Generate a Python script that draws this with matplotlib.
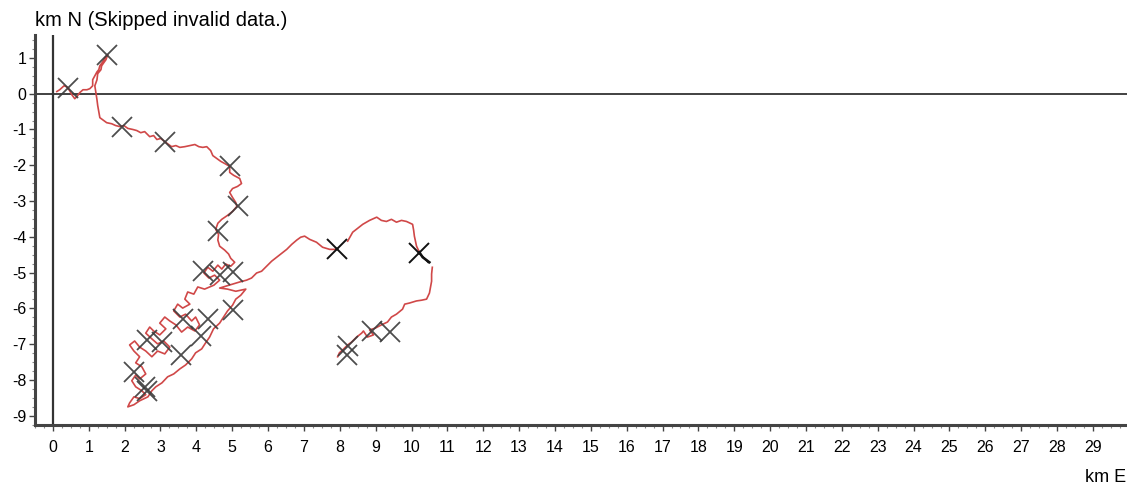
import numpy as np
import matplotlib
matplotlib.use("Agg")
import matplotlib.pyplot as plt
from matplotlib.ticker import MultipleLocator

plt.rcParams['font.family'] = ['Liberation Sans', 'DejaVu Sans']
plt.rcParams['axes.unicode_minus'] = False

nan = np.nan

# GPS track (km east / km north of start), NaN = skipped invalid data
east_km = [
    0.11, 0.19, 0.31, 0.39, 0.47, 0.53, 0.61, 0.67, 0.75, 0.84, 0.95, 1.03, 1.11, 1.11,
    1.17, 1.23, 1.28, 1.31, 1.39, 1.45, 1.53, 1.48, 1.36, 1.34, 1.25, 1.23, 1.17, 1.20,
    1.23, 1.25, 1.28, 1.31, 1.42, 1.50, 1.64, 1.75, 1.87, 1.98, 2.09, 2.23, 2.34, 2.45,
    2.56, 2.70, 2.81, 2.90, 3.01, 3.12, 3.23, 3.31, 3.43, 3.54, 3.68, 3.82, 3.96, 4.07,
    4.18, 4.29, 4.40, 4.46, 4.57, 4.68, 4.79, 4.93, 4.93, 5.04, 5.21, 5.26, 5.15, 5.01,
    4.93, 5.01, 5.10, 5.13, 5.01, 4.87, 4.71, 4.60, 4.54, 4.62, 4.60, 4.65, 4.79, 4.90,
    4.96, 5.07, 4.96, 4.82, 4.71, 4.60, 4.46, 4.32, 4.21, 4.35, 4.51, 4.65, 4.49,
    # dense band going south-west
    4.23, 4.04, 3.93, 3.76, 3.68, 3.82, 3.62, 3.48, 3.37, 3.54, 3.70, 3.87, 3.98, 4.09,
    3.96, 3.76, 3.59, 3.43, 3.26, 3.12, 2.98, 3.15, 2.98, 2.81, 2.70, 2.59, 2.76, 2.92,
    3.09, 3.26, 3.12, 2.92, 2.76, 2.59, 2.42, 2.28, 2.14, 2.26, 2.42, 2.31, 2.48, 2.59,
    2.42, 2.31, 2.20, 2.31, 2.48, 2.59, 2.42, 2.26, 2.14, 2.09, 2.26, 2.42, 2.65, 2.76,
    # back north-east
    2.87, 3.04, 3.20, 3.37, 3.54, 3.70, 3.87, 3.98, 4.15, 4.26, 4.37, 4.48, 4.65, 4.76,
    4.87, 5.01, 5.10, 5.24, 5.38, 5.10, 4.87, 4.65,
    # long leg east
    5.01, 5.21, 5.40, 5.54, 5.68, 5.82, 5.96, 6.10, 6.24, 6.38, 6.52, 6.66, 6.80, 6.91,
    7.02, 7.16, 7.35, 7.52, 7.72, 7.88,
    nan,
    8.22, 8.36, 8.50, 8.64, 8.83, 9.03, 9.16, 9.30, 9.44, 9.58, 9.72, 9.86, 10.03, 10.06,
    10.08, 10.14, 10.22,
    nan,
    10.58, 10.56, 10.56, 10.53, 10.50, 10.42, 10.28, 10.14, 9.94, 9.81, 9.75, 9.58, 9.44,
    9.33, 9.16, 8.99, 8.83, 8.94, 8.77, 8.66, 8.61, 8.47, 8.33, 8.22, 8.11, 7.99, 7.94,
]
north_km = [
    0.06, 0.11, 0.22, 0.19, 0.08, -0.03, -0.14, -0.08, 0.03, 0.11, 0.11, 0.14, 0.22, 0.39,
    0.50, 0.61, 0.67, 0.78, 0.89, 1.00, 1.09, 0.95, 0.78, 0.67, 0.56, 0.39, 0.22, 0.03,
    -0.17, -0.33, -0.50, -0.67, -0.75, -0.81, -0.84, -0.89, -0.92, -0.89, -0.97, -1.00, -1.03, -1.09,
    -1.06, -1.20, -1.17, -1.28, -1.25, -1.34, -1.42, -1.48, -1.45, -1.50, -1.48, -1.45, -1.42, -1.48,
    -1.50, -1.48, -1.59, -1.73, -1.81, -1.89, -1.95, -2.03, -2.20, -2.28, -2.37, -2.51, -2.59, -2.65,
    -2.76, -2.90, -3.04, -3.15, -3.29, -3.40, -3.51, -3.62, -3.79, -3.93, -4.09, -4.26, -4.37, -4.48,
    -4.60, -4.71, -4.82, -4.76, -4.90, -4.79, -4.96, -4.85, -5.01, -5.15, -5.07, -5.21, -5.35,
    -5.46, -5.40, -5.60, -5.54, -5.74, -5.88, -5.99, -5.88, -6.07, -6.24, -6.16, -6.35, -6.24, -6.46,
    -6.63, -6.52, -6.66, -6.46, -6.35, -6.24, -6.41, -6.57, -6.74, -6.63, -6.52, -6.69, -6.85, -6.99,
    -6.91, -7.08, -7.27, -7.19, -7.35, -7.19, -7.08, -6.91, -7.02, -7.19, -7.35, -7.52, -7.63, -7.83,
    -7.97, -7.86, -8.02, -8.19, -8.30, -8.41, -8.52, -8.47, -8.64, -8.75, -8.69, -8.58, -8.47, -8.30,
    -8.19, -8.08, -7.91, -7.83, -7.69, -7.58, -7.41, -7.24, -7.13, -6.96, -6.80, -6.57, -6.41, -6.24,
    -6.07, -5.91, -5.74, -5.63, -5.46, -5.52, -5.46, -5.43,
    -5.32, -5.26, -5.21, -5.15, -5.01, -4.96, -4.82, -4.68, -4.57, -4.46, -4.35, -4.21, -4.09, -4.01,
    -3.98, -4.07, -4.15, -4.29, -4.35, -4.35,
    nan,
    -4.12, -3.87, -3.76, -3.65, -3.54, -3.45, -3.54, -3.57, -3.51, -3.59, -3.54, -3.57, -3.65, -3.82,
    -3.98, -4.26, -4.43,
    nan,
    -4.85, -5.04, -5.24, -5.40, -5.57, -5.74, -5.77, -5.79, -5.85, -5.88, -6.02, -6.16, -6.24,
    -6.38, -6.46, -6.55, -6.60, -6.74, -6.80, -6.63, -6.69, -6.80, -6.94, -7.02, -7.13, -7.24, -7.35,
]

# short dark piece near the eastern turn
dark_east = [10.22, 10.31, 10.42, 10.50]
dark_north = [-4.43, -4.57, -4.65, -4.71]

# waypoint marks
mark_east = [0.42, 1.50, 1.92, 3.12, 4.93, 5.15, 4.60, 4.18, 4.65, 5.01, 5.01, 4.32, 3.62,
             4.12, 3.57, 3.04, 2.62, 2.26, 2.62, 2.56, 8.91, 9.39, 8.22, 8.19]
mark_north = [0.17, 1.09, -0.92, -1.34, -2.03, -3.15, -3.84, -4.96, -5.07, -4.99, -6.04, -6.30,
              -6.30, -6.77, -7.30, -6.94, -6.88, -7.77, -8.30, -8.19, -6.63, -6.66, -7.05, -7.30]
black_mark_east = [7.91, 10.22]
black_mark_north = [-4.35, -4.46]

x_ticks = list(range(0, 30))
y_ticks = list(range(-9, 2))

fig = plt.figure(figsize=(11.27, 4.86), dpi=100)
ax = fig.add_axes([0.031, 0.126, 0.969, 0.802])

ax.plot(east_km, north_km, color='#d04848', lw=1.2, zorder=3)
ax.plot(dark_east, dark_north, color='#111111', lw=1.8, zorder=4)
ax.plot(mark_east, mark_north, ls='none', marker='x', ms=14, mew=1.3,
        color='#3a3a3a', alpha=0.9, zorder=5)
ax.plot(black_mark_east, black_mark_north, ls='none', marker='x', ms=14, mew=1.4,
        color='#111111', zorder=5)

ax.axhline(0, color='#333333', lw=1.3, zorder=2)
ax.axvline(0, color='#333333', lw=1.6, zorder=2)

ax.set_xlim(-0.5, 29.95)
ax.set_ylim(-9.25, 1.64)

ax.set_xticks(x_ticks)
ax.set_yticks(y_ticks)
ax.xaxis.set_minor_locator(MultipleLocator(0.25))
ax.yaxis.set_minor_locator(MultipleLocator(0.25))
ax.tick_params(which='major', length=4, width=1, color='#444444', labelsize=11.5)
ax.tick_params(which='minor', length=2, width=0.8, color='#888888')
ax.tick_params(axis='x', which='major', pad=7)
ax.tick_params(axis='y', which='major', pad=2)

for side in ['top', 'right']:
    ax.spines[side].set_visible(False)
for side in ['left', 'bottom']:
    ax.spines[side].set_color('#444444')
    ax.spines[side].set_linewidth(2.2)

fig.text(0.031, 0.958, 'km N (Skipped invalid data.)', fontsize=14.5, va='center', ha='left')
fig.text(0.999, 0.017, 'km E', fontsize=13, va='center', ha='right')

fig.savefig('out.png', dpi=100)
